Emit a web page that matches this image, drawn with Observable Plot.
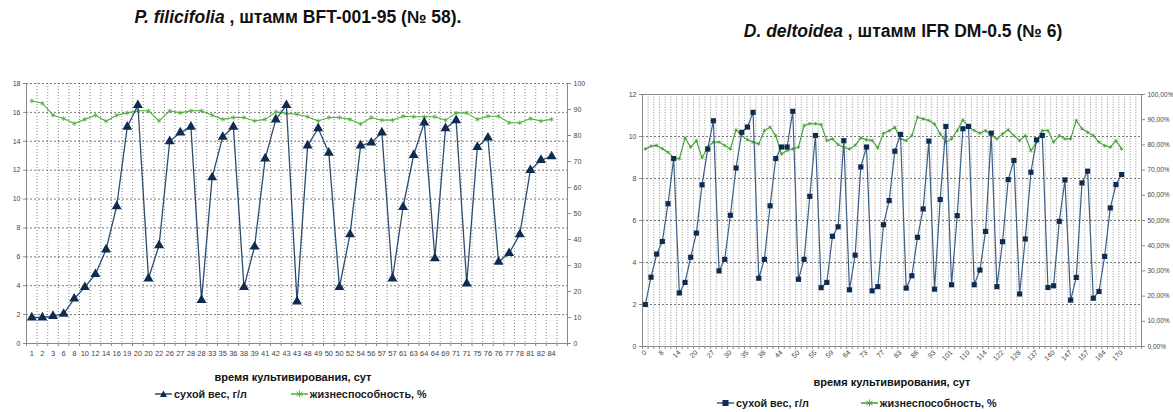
<!DOCTYPE html>
<html>
<head>
<meta charset="utf-8">
<script src="https://cdn.jsdelivr.net/npm/d3@7"></script>
<script src="https://cdn.jsdelivr.net/npm/@observablehq/plot@0.6"></script>
<style>
  body { margin: 0; background: #fff; font-family: "Liberation Sans", Arial, sans-serif; }
  #page { position: relative; width: 1173px; height: 412px; overflow: hidden; background: #fff; }
  .title { position: absolute; font-weight: bold; font-size: 17.5px; color: #111; white-space: nowrap; text-align: center; }
  .xtitle { position: absolute; font-weight: bold; font-size: 11px; color: #111; white-space: nowrap; text-align: center; }
  .legend { position: absolute; font-weight: bold; font-size: 10.8px; color: #1a1a1a; display: flex; align-items: center; white-space: nowrap; }
  .legend .item { display: flex; align-items: center; }
  .legend svg { margin-right: 2px; }
  .chart { position: absolute; }
</style>
</head>
<body>
<div id="page">
  <div class="title" style="left:48px; top:7px; width:500px;"><i>P. filicifolia</i> , штамм BFT-001-95 (№ 58).</div>
  <div class="title" style="left:653px; top:21px; width:500px;"><i>D. deltoidea</i> , штамм IFR DM-0.5 (№ 6)</div>
  <div class="chart" id="left" style="left:0px; top:70px;"></div>
  <div class="chart" id="right" style="left:600px; top:80px;"></div>
  <div class="xtitle" style="left:143px; top:371px; width:300px;">время культивирования, сут</div>
  <div class="xtitle" style="left:742px; top:376px; width:300px;">время культивирования, сут</div>
  <div class="legend" id="legendLeft" style="left:155px; top:388px;"></div>
  <div class="legend" id="legendRight" style="left:717px; top:397px;"></div>
</div>
<script>
// P. filicifolia, strain BFT-001-95: day labels, dry weight (g/l) and viability (%)
const leftDays = ["1","2","3","6","8","10","12","14","16","19","20","20","22","26","27","28","28","33","35","36",
  "38","39","41","42","43","43","48","49","50","50","52","54","56","57","57","61","63","64","64","69",
  "71","71","75","76","76","77","78","81","82","84"];
const leftDry = [1.8, 1.8, 1.9, 2.05, 3.1, 3.9, 4.8, 6.5, 9.5, 15.0, 16.5, 4.5, 6.8, 14.0, 14.6, 15.0, 3.0, 11.5, 14.3, 15.0,
  3.9, 6.7, 12.8, 15.5, 16.5, 2.9, 13.7, 14.9, 13.2, 3.9, 7.55, 13.7, 13.9, 14.6, 4.5, 9.45, 13.05, 15.3, 5.9, 14.9,
  15.45, 4.15, 13.6, 14.25, 5.65, 6.25, 7.55, 12.0, 12.7, 12.95];
const leftViab = [93.3, 92.4, 87.8, 86.5, 84.6, 86.2, 87.8, 85.5, 87.8, 88.7, 89.5, 89.5, 85.6, 89.5, 88.7, 89.5, 89.5, 87.8, 86.2, 86.9,
  86.9, 85.6, 86.2, 89.1, 88.5, 88.2, 87.2, 85.6, 86.9, 86.9, 86.2, 84.4, 86.9, 85.9, 85.9, 87.4, 87.2, 87.2, 87.2, 85.9,
  88.7, 88.7, 86.2, 87.4, 87.4, 84.9, 84.9, 86.5, 85.6, 86.2];
const leftDryTicks = [0, 2, 4, 6, 8, 10, 12, 14, 16, 18];
const leftViabTicks = [0, 10, 20, 30, 40, 50, 60, 70, 80, 90, 100];

// D. deltoidea, strain IFR DM-0.5: labelled days (every third sampling), dry weight (g/l) and viability (%)
const rightDays = ["0","8","14","20","27","30","35","38","44","50","55","59","64","73","77","83","86","93","101","110",
  "114","122","128","137","140","147","157","164","170"];
const rightDry = [2.0, 3.3, 4.4, 5.0, 6.8, 8.95,
  2.55, 3.05, 4.25, 5.4, 7.7, 9.4, 10.75,
  3.6, 4.15, 6.25, 8.5, 10.2, 10.45, 11.15,
  3.25, 4.15, 6.7, 8.95, 9.5, 9.5, 11.2,
  3.2, 4.15, 7.15, 10.05,
  2.8, 3.05, 5.25, 5.7, 9.8,
  2.7, 4.35, 8.55, 9.5,
  2.65, 2.85, 5.8, 6.95, 9.3, 10.1,
  2.78, 3.37, 5.2, 6.55, 9.78,
  2.73, 7.0, 10.48,
  2.94, 6.23, 10.37, 10.48,
  2.94, 3.64, 5.48, 10.16,
  2.85, 4.99, 7.95, 8.86,
  2.5, 5.12, 8.3, 9.84, 10.05,
  2.81, 2.89, 5.96, 7.93,
  2.21, 3.29, 7.79, 8.35,
  2.3, 2.62, 4.29, 6.6, 7.71, 8.19];
const rightViab = [78.4, 79.5, 79.8, 78.5, 77.1, 74.9, 74.5, 82.8, 79.1, 81.7,
  74.9, 79.1, 81.1, 81.1, 79.8, 78.4, 86.0, 83.7, 82.0, 81.1,
  80.4, 85.7, 87.0, 83.7, 76.4, 77.8, 78.4, 79.1, 87.7, 88.4,
  88.4, 88.1, 81.7, 82.4, 80.1, 79.1, 78.4, 79.8, 82.8, 82.0,
  81.8, 78.8, 84.6, 85.6, 87.0, 82.4, 81.7, 83.7, 91.0, 90.3,
  89.7, 88.3, 84.4, 81.1, 82.4, 85.7, 89.9, 87.0, 85.7, 84.6,
  85.7, 83.7, 82.4, 84.4, 86.0, 83.7, 81.7, 83.7, 77.7, 81.1,
  85.7, 85.7, 81.1, 83.7, 82.4, 82.4, 89.7, 86.4, 85.0, 83.7,
  81.1, 79.7, 79.1, 81.7, 78.4];
const rightDryTicks = [0, 2, 4, 6, 8, 10, 12];
const rightViabTicks = [0, 10, 20, 30, 40, 50, 60, 70, 80, 90, 100];

const navyLine = "#2c4c72";
const navyMark = "#0e2b50";
const greenL = "#4fae3c";
const greenR = "#3f9d2f";
const axisGray = "#8a8a8a";
const textStyle = { fontFamily: "'Liberation Sans', Arial, sans-serif", fontSize: "7px", color: "#444", background: "transparent", overflow: "visible" };

// ---- left chart ----
const leftRows = leftDays.map((d, i) => ({ i, dry: leftDry[i], viab: leftViab[i] }));
const kL = 18 / 100;           // % -> left axis units
const nL = 51;                 // category slots on the axis
const leftChart = Plot.plot({
  width: 600, height: 287,
  marginTop: 13, marginBottom: 14, marginLeft: 26, marginRight: 33,
  x: { type: "linear", domain: [-0.5, nL - 0.5], axis: null },
  y: { domain: [0, 18], axis: null },
  style: textStyle,
  marks: [
    Plot.ruleX(d3.range(0.5, nL - 0.5, 1), { stroke: "#7a7a7a", strokeDasharray: "1,2", strokeWidth: 0.9 }),
    Plot.ruleY(leftDryTicks.slice(1), { stroke: "#555", strokeDasharray: "2,2", strokeWidth: 0.8 }),
    Plot.ruleX([-0.5, nL - 0.5], { stroke: axisGray }),
    Plot.ruleY([0], { stroke: axisGray }),
    Plot.axisY(leftDryTicks, { anchor: "left", tickSize: 3, tickPadding: 3, label: null, tickFormat: d => String(d), stroke: axisGray }),
    Plot.axisY(leftViabTicks, { anchor: "right", y: d => d * kL, tickSize: 3, tickPadding: 3, label: null, tickFormat: d => String(d), stroke: axisGray }),
    Plot.axisX(d3.range(-0.5, nL, 1), { anchor: "bottom", tickSize: 3, tickFormat: () => "", label: null, stroke: axisGray }),
    Plot.axisX(d3.range(leftDays.length), { anchor: "bottom", tickSize: 0, tickPadding: 7, label: null, tickFormat: i => leftDays[i], fontSize: 7.5 }),
    Plot.line(leftRows, { x: "i", y: d => d.viab * kL, stroke: greenL, strokeWidth: 1.1 }),
    Plot.dot(leftRows, { x: "i", y: d => d.viab * kL, symbol: "asterisk", r: 2.2, stroke: greenL, strokeWidth: 0.8 }),
    Plot.line(leftRows, { x: "i", y: "dry", stroke: navyLine, strokeWidth: 1.3 }),
    Plot.dot(leftRows, { x: "i", y: "dry", symbol: "triangle", r: 3.7, fill: navyMark, stroke: "none" })
  ]
});
document.getElementById("left").appendChild(leftChart);

// ---- right chart ----
const rightRows = rightDry.map((v, i) => ({ i, dry: v, viab: rightViab[i] }));
const kR = 12 / 100;
const nR = 88;
const pctFormat = d => d.toFixed(2).replace(".", ",") + "%";
const rightChart = Plot.plot({
  width: 573, height: 300,
  marginTop: 14, marginBottom: 34, marginLeft: 42, marginRight: 32,
  x: { type: "linear", domain: [-0.5, nR - 0.5], axis: null },
  y: { domain: [0, 12], axis: null },
  style: textStyle,
  marks: [
    Plot.ruleX(d3.range(0.5, nR - 0.5, 1), { stroke: "#7a7a7a", strokeDasharray: "1,1.6", strokeWidth: 0.8 }),
    Plot.ruleY(rightDryTicks.slice(1, -1), { stroke: "#555", strokeDasharray: "2,2", strokeWidth: 0.8 }),
    Plot.ruleY([0, 12], { stroke: axisGray }),
    Plot.ruleX([-0.5, nR - 0.5], { stroke: axisGray }),
    Plot.axisY(rightDryTicks, { anchor: "left", tickSize: 3, tickPadding: 3, label: null, tickFormat: d => String(d), stroke: axisGray }),
    Plot.axisY(rightViabTicks, { anchor: "right", y: d => d * kR, tickSize: 3, tickPadding: 3, label: null, tickFormat: pctFormat, stroke: axisGray, fontSize: 6.5 }),
    Plot.axisX(d3.range(-0.5, nR, 1), { anchor: "bottom", tickSize: 3, tickFormat: () => "", label: null, stroke: axisGray }),
    Plot.axisX(d3.range(0, rightDry.length, 3), { anchor: "bottom", tickSize: 0, tickPadding: 5, tickRotate: -45, label: null, tickFormat: i => rightDays[i / 3], fontSize: 7 }),
    Plot.line(rightRows, { x: "i", y: d => d.viab * kR, stroke: greenR, strokeWidth: 1.1 }),
    Plot.dot(rightRows, { x: "i", y: d => d.viab * kR, symbol: "asterisk", r: 1.8, stroke: greenR, strokeWidth: 0.7 }),
    Plot.line(rightRows, { x: "i", y: "dry", stroke: "#3b5f86", strokeWidth: 1.2 }),
    Plot.dot(rightRows, { x: "i", y: "dry", symbol: "square", r: 2.9, fill: navyMark, stroke: "none" })
  ]
});
document.getElementById("right").appendChild(rightChart);

// ---- legends ----
function swatch(kind, color, mark) {
  const s = d3.create("svg").attr("width", 17).attr("height", 10);
  s.append("line").attr("x1", 0).attr("x2", 17).attr("y1", 5).attr("y2", 5).attr("stroke", color).attr("stroke-width", 1.5);
  if (kind === "triangle") s.append("path").attr("d", "M8.5,1.5L12,8L5,8Z").attr("fill", mark);
  if (kind === "square") s.append("rect").attr("x", 5.5).attr("y", 2).attr("width", 6).attr("height", 6).attr("fill", mark);
  if (kind === "asterisk") {
    const g = s.append("g").attr("stroke", mark).attr("stroke-width", 0.9);
    g.append("line").attr("x1", 8.5).attr("x2", 8.5).attr("y1", 1.5).attr("y2", 8.5);
    g.append("line").attr("x1", 5.5).attr("x2", 11.5).attr("y1", 3).attr("y2", 7);
    g.append("line").attr("x1", 5.5).attr("x2", 11.5).attr("y1", 7).attr("y2", 3);
  }
  return s.node();
}
function legend(id, items, gap) {
  const box = document.getElementById(id);
  items.forEach(([kind, color, mark, label], j) => {
    const it = document.createElement("div");
    it.className = "item";
    if (j > 0) it.style.marginLeft = gap + "px";
    it.appendChild(swatch(kind, color, mark));
    const t = document.createElement("span");
    t.textContent = label;
    it.appendChild(t);
    box.appendChild(it);
  });
}
legend("legendLeft", [["triangle", navyLine, navyMark, "сухой вес, г/л"], ["asterisk", greenL, greenL, "жизнеспособность, %"]], 44);
legend("legendRight", [["square", "#3b5f86", navyMark, "сухой вес, г/л"], ["asterisk", greenR, greenR, "жизнеспособность, %"]], 52);
</script>
</body>
</html>
